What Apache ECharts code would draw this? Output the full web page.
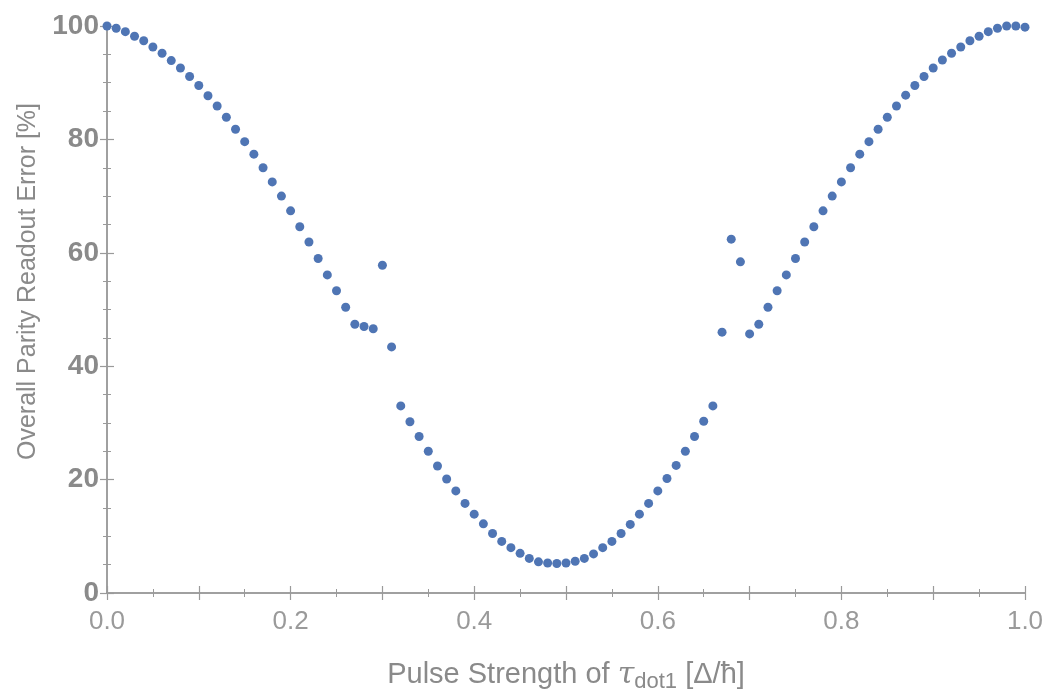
<!DOCTYPE html>
<html>
<head>
<meta charset="utf-8">
<script src="https://cdn.jsdelivr.net/npm/echarts@6/dist/echarts.min.js"></script>
<style>
html,body{margin:0;padding:0;background:#fff;}
#chart{width:1053px;height:692px;}
</style>
</head>
<body>
<div id="chart"></div>
<script>
const pulseStrength = [
  0.00,0.01,0.02,0.03,0.04,0.05,0.06,0.07,0.08,0.09,
  0.10,0.11,0.12,0.13,0.14,0.15,0.16,0.17,0.18,0.19,
  0.20,0.21,0.22,0.23,0.24,0.25,0.26,0.27,0.28,0.29,
  0.30,0.31,0.32,0.33,0.34,0.35,0.36,0.37,0.38,0.39,
  0.40,0.41,0.42,0.43,0.44,0.45,0.46,0.47,0.48,0.49,
  0.50,0.51,0.52,0.53,0.54,0.55,0.56,0.57,0.58,0.59,
  0.60,0.61,0.62,0.63,0.64,0.65,0.66,0.67,0.68,0.69,
  0.70,0.71,0.72,0.73,0.74,0.75,0.76,0.77,0.78,0.79,
  0.80,0.81,0.82,0.83,0.84,0.85,0.86,0.87,0.88,0.89,
  0.90,0.91,0.92,0.93,0.94,0.95,0.96,0.97,0.98,0.99,
  1.00
];
const readoutError = [
  100,99.6,99.0,98.2,97.4,96.3,95.2,93.9,92.6,91.1,
  89.5,87.7,85.9,83.9,81.8,79.6,77.4,75.0,72.5,70.0,
  67.4,64.6,61.9,59.0,56.1,53.3,50.4,47.4,47.0,46.6,
  57.8,43.4,33.0,30.2,27.6,25.0,22.4,20.1,18.0,15.8,
  13.9,12.2,10.5,9.1,8.0,7.0,6.1,5.5,5.3,5.2,
  5.3,5.6,6.1,6.9,8.0,9.1,10.5,12.1,13.9,15.8,
  18.0,20.2,22.5,25.0,27.6,30.3,33.0,46.0,62.4,58.4,
  45.7,47.4,50.4,53.3,56.1,59.0,61.9,64.6,67.4,70.0,
  72.5,75.0,77.4,79.6,81.8,83.9,85.9,87.8,89.5,91.1,
  92.6,94.0,95.2,96.3,97.4,98.2,99.0,99.6,100,100,
  99.8
];
const xTickLabels = ['0.0','0.2','0.4','0.6','0.8','1.0'];
const yTickLabels = ['0','20','40','60','80','100'];

const frameColor = '#9a9a9a';
const chart = echarts.init(document.getElementById('chart'));

const data = pulseStrength.map((x, i) => [x, readoutError[i]]);

function xLabel(v){
  const s = v.toFixed(1);
  return xTickLabels.indexOf(s) >= 0 ? s : '';
}
function yLabel(v){
  const s = String(Math.round(v));
  return yTickLabels.indexOf(s) >= 0 ? s : '';
}

const frameLine = {show:true, lineStyle:{color:frameColor, width:1.5}};

chart.setOption({
  animation:false,
  backgroundColor:'#ffffff',
  grid:{left:107, right:28, top:26, bottom:99, containLabel:false, outerBoundsMode:'none'},
  xAxis:[{
    type:'value', min:0, max:1, interval:0.1, position:'bottom',
    axisLine:frameLine,
    axisTick:{show:true, inside:true, length:7, lineStyle:{color:frameColor, width:1.2}},
    minorTick:{show:true, splitNumber:2, length:4, lineStyle:{color:frameColor, width:1}},
    splitLine:{show:false},
    axisLabel:{formatter:xLabel, fontSize:26, color:'#9a9a9a', margin:16, fontFamily:'Liberation Sans, Arial, sans-serif'},
    name:'{a|Pulse Strength of }{t|τ}{s|dot1}{a| [Δ/ħ]}',
    nameLocation:'middle', nameGap:64,
    nameTextStyle:{
      rich:{
        a:{fontSize:29, color:'#8a8a8a', fontFamily:'Liberation Sans, Arial, sans-serif'},
        t:{fontSize:30, color:'#8a8a8a', fontStyle:'italic', fontFamily:'DejaVu Serif, serif'},
        s:{fontSize:22, color:'#8a8a8a', fontFamily:'Liberation Sans, Arial, sans-serif', padding:[14,0,0,0]}
      }
    }
  },{
    type:'value', min:0, max:1, interval:0.1, position:'top',
    axisLine:frameLine,
    axisTick:{show:true, inside:true, length:7, lineStyle:{color:frameColor, width:1.2}},
    minorTick:{show:true, splitNumber:2, length:4, lineStyle:{color:frameColor, width:1}},
    splitLine:{show:false},
    axisLabel:{show:false}
  }],
  yAxis:[{
    type:'value', min:0, max:100, interval:20, position:'left',
    axisLine:frameLine,
    axisTick:{show:true, inside:true, length:7, lineStyle:{color:frameColor, width:1.2}},
    minorTick:{show:true, splitNumber:4, length:4, lineStyle:{color:frameColor, width:1}},
    splitLine:{show:false},
    axisLabel:{formatter:yLabel, fontSize:28, fontWeight:'bold', color:'#8a8a8a', margin:8, fontFamily:'Liberation Sans, Arial, sans-serif'},
    name:'Overall Parity Readout Error [%]',
    nameLocation:'middle', nameGap:66,
    nameTextStyle:{fontSize:25, color:'#8a8a8a', fontFamily:'Liberation Sans, Arial, sans-serif', padding:[0,0,0,56]}
  },{
    type:'value', min:0, max:100, interval:20, position:'right',
    axisLine:frameLine,
    axisTick:{show:true, inside:true, length:7, lineStyle:{color:frameColor, width:1.2}},
    minorTick:{show:true, splitNumber:4, length:4, lineStyle:{color:frameColor, width:1}},
    splitLine:{show:false},
    axisLabel:{show:false}
  }],
  series:[{
    type:'scatter',
    xAxisIndex:0, yAxisIndex:0,
    data:data,
    symbol:'circle',
    symbolSize:9,
    itemStyle:{color:'#4f75b4', opacity:1},
    clip:false
  }]
});
</script>
</body>
</html>
